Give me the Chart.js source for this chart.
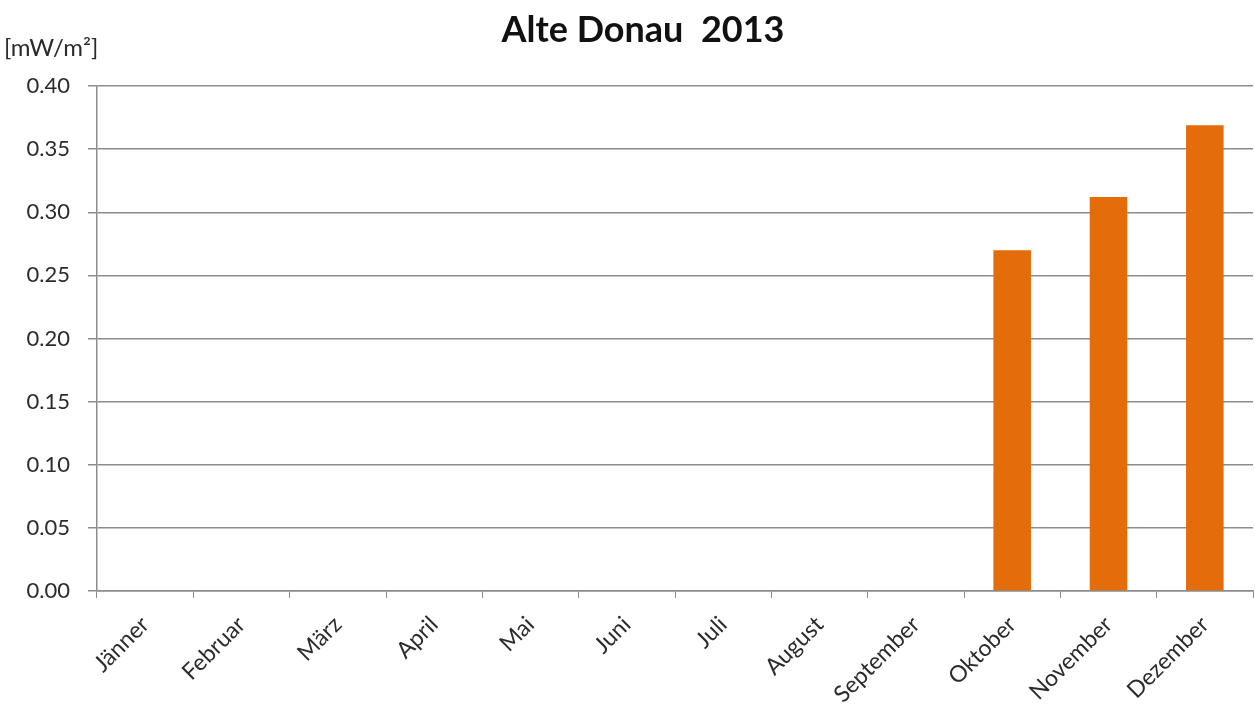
<!DOCTYPE html>
<html lang="de">
<head>
  <meta charset="UTF-8" />
  <title>Alte Donau 2013</title>
  <style>
    html, body {
      margin: 0;
      padding: 0;
      background: #fff;
    }
    #wrap {
      width: 1255px;
      height: 707px;
      position: relative;
    }
  </style>
</head>
<body>
  <div id="wrap"><canvas id="grafico"></canvas></div>

  <script src="https://cdn.jsdelivr.net/npm/chart.js"></script>
  <script>
    // Monatswerte Alte Donau 2013 in mW/m²
    const monate = ["Jänner", "Februar", "März", "April", "Mai", "Juni", "Juli",
                    "August", "September", "Oktober", "November", "Dezember"];
    const werte = [null, null, null, null, null, null, null, null, null, 0.270, 0.312, 0.369];
    const titel = "Alte Donau  2013";
    const einheit = "[mW/m²]";

    const FONT = "Lato, 'Open Sans', sans-serif";
    const GRAU = "#8c8c8c";
    const TEXT = "#2b2b2b";

    // Titel und Einheit oben links selbst zeichnen
    const beschriftung = {
      id: "beschriftung",
      beforeDraw(chart) {
        const ctx = chart.ctx;
        ctx.save();
        ctx.fillStyle = "#fff";
        ctx.fillRect(0, 0, chart.width, chart.height);
        ctx.restore();
      },
      afterDraw(chart) {
        const ctx = chart.ctx;
        ctx.save();
        ctx.fillStyle = "#111";
        ctx.font = "bold 36px " + FONT;
        ctx.textAlign = "center";
        ctx.textBaseline = "middle";
        ctx.fillText(titel, 643, 30);
        ctx.fillStyle = TEXT;
        ctx.font = "24px " + FONT;
        ctx.textAlign = "left";
        ctx.fillText(einheit, 4, 48);
        ctx.restore();
      }
    };

    new Chart(document.getElementById("grafico"), {
      type: "bar",
      data: {
        labels: monate,
        datasets: [{
          data: werte,
          backgroundColor: "#e46c0a",
          borderWidth: 0,
          categoryPercentage: 1,
          barPercentage: 0.39
        }]
      },
      options: {
        responsive: true,
        maintainAspectRatio: false,
        animation: false,
        layout: { padding: { top: 86, right: 2, left: 0, bottom: 0 } },
        plugins: {
          legend: { display: false },
          title: { display: false },
          tooltip: { enabled: false }
        },
        scales: {
          x: {
            afterFit(scale) { scale.height = 116; },
            grid: {
              offset: true,
              drawOnChartArea: false,
              color: GRAU,
              tickLength: 7
            },
            border: { color: GRAU, width: 1.5 },
            ticks: {
              color: TEXT,
              font: { family: FONT, size: 23 },
              minRotation: 45,
              maxRotation: 45,
              padding: 13
            }
          },
          y: {
            min: 0,
            max: 0.4,
            afterFit(scale) { scale.width = 97; },
            grid: {
              color: GRAU,
              lineWidth: 1.5,
              tickLength: 9
            },
            border: { color: GRAU, width: 1.5 },
            ticks: {
              stepSize: 0.05,
              color: TEXT,
              font: { family: FONT, size: 22 },
              padding: 18,
              callback: v => v.toFixed(2)
            }
          }
        }
      },
      plugins: [beschriftung]
    });
  </script>
</body>
</html>
